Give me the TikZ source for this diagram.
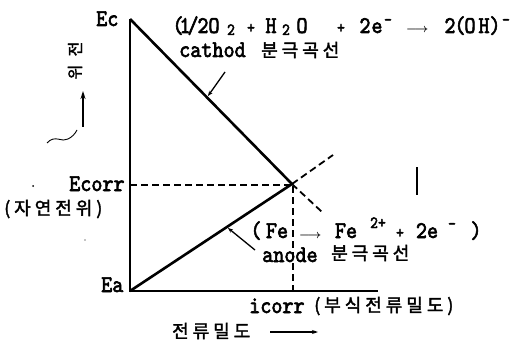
\documentclass[tikz,border=0pt]{standalone}
\usepackage{fontspec}
\usetikzlibrary{arrows.meta}
\newfontfamily\lat{lmmono10-regular.otf}[FakeBold=2.5,FakeStretch=0.88]
\newfontfamily\kr{Noto Sans CJK KR}[LetterSpace=22,FakeBold=2]
\newfontfamily\krn{Noto Sans CJK KR}[FakeBold=2]
\tikzset{
  lt/.style={inner sep=0pt, anchor=base west, font=\lat\fontsize{24}{24}\selectfont},
  ltc/.style={inner sep=0pt, anchor=base, font=\lat\fontsize{24}{24}\selectfont},
  smc/.style={inner sep=0pt, anchor=base, font=\lat\fontsize{17}{17}\selectfont},
  ko/.style={inner sep=0pt, anchor=west, font=\kr\fontsize{18}{18}\selectfont},
  arr/.style={inner sep=0pt, anchor=base west, font=\mathversion{bold}\fontsize{12}{12}\selectfont},
  curve/.style={line width=2.6pt},
  axisl/.style={line width=2pt},
  dsh/.style={line width=1.8pt, dash pattern=on 7pt off 4pt},
  lead/.style={line width=1.3pt, -{Stealth[length=5pt,width=4pt]}},
}
\begin{document}
\begin{tikzpicture}[x=1pt,y=-1pt]
\useasboundingbox (0,0) rectangle (514,350);
% key points
\coordinate (Ec) at (130,19);
\coordinate (O) at (130,291);
\coordinate (Xend) at (378,291);
\coordinate (P) at (292,184);
\coordinate (Ecl) at (130,185);
\coordinate (Ecr) at (292,185);
\coordinate (cdash) at (322,212);
\coordinate (adash) at (333,155);
\coordinate (foot) at (293,290);
\coordinate (ptop) at (293,186);
% axes
\draw[axisl] (Ec) -- (O) -- (Xend);
% cathode and anode curves
\draw[curve] (Ec) -- (P);
\draw[curve] (O) -- (P);
\draw[dsh] (P) -- (cdash);
\draw[dsh] (P) -- (adash);
\draw[dsh] (Ecl) -- (Ecr);
\draw[dsh] (ptop) -- (foot);
% leaders
\coordinate (cl1) at (225,72);
\coordinate (cl2) at (208,96);
\draw[lead] (cl1) -- (cl2);
\coordinate (al1) at (255,250);
\coordinate (al2) at (228,228);
\draw[lead] (al1) -- (al2);
% potential axis arrow and squiggle
\coordinate (va1) at (83,127);
\coordinate (va2) at (83,91);
\draw[line width=1.6pt, -{Stealth[length=8pt,width=5pt]}] (va1) -- (va2);
\coordinate (sq1) at (47,143);
\coordinate (sq2) at (77,130);
\draw[line width=0.9pt] (sq1) .. controls (55,134) and (62,143) .. (68,139) .. controls (72,137) and (75,134) .. (sq2);
% current axis arrow
\coordinate (ha1) at (270,332);
\coordinate (ha2) at (318,332);
\draw[line width=1.3pt, -{Stealth[length=6pt,width=4pt]}] (ha1) -- (ha2);
% stray marks
\coordinate (st1) at (417,167);
\coordinate (st2) at (417,195);
\draw[line width=1.2pt] (st1) -- (st2);
\fill (33,186) circle (1pt);
\fill (85,240) circle (0.7pt);
% vertical label
\node[inner sep=0pt, rotate=90, font=\krn\fontsize{16}{16}\selectfont] (v1) at (75,49) {전};
\node[inner sep=0pt, rotate=90, font=\krn\fontsize{16}{16}\selectfont] (v2) at (75,72) {위};
% axis labels
\node[lt] (lEc) at (96,26) {Ec};
\node[lt] (lEcorr) at (69,191) {Ecorr};
\node[ko] (lnat) at (4,209) {(자연전위)};
\node[lt] (lEa) at (101,292) {Ea};
\node[lt] (licorr) at (249,313) {icorr};
\node[ko] (lcorr) at (314,306) {(부식전류밀도)};
\node[ko] (lcd) at (172,331) {전류밀도};
% cathode labels
\node[lt] (lcath) at (179,57) {cathod};
\node[ko] (lcath2) at (261,50) {분극곡선};
\node[ltc] (c1) at (178,33) {(};
\node[ltc] (c2) at (185,33) {1};
\node[ltc] (c3) at (193,33) {/};
\node[ltc] (c4) at (203,33) {2};
\node[ltc] (c5) at (214,33) {O};
\node[smc] (c6) at (231,35) {2};
\node[smc] (c7) at (251,33) {+};
\node[ltc] (c8) at (271,33) {H};
\node[smc] (c9) at (286,35) {2};
\node[ltc] (c10) at (302,33) {O};
\node[smc] (c11) at (341,33) {+};
\node[ltc] (c12) at (365,33) {2};
\node[ltc] (c13) at (377,33) {e};
\node[smc] (c14) at (388,25) {-};
\node[arr] (c15) at (406,33) {$\longrightarrow$};
\node[ltc] (c16) at (450,33) {2};
\node[ltc] (c17) at (460,33) {(};
\node[ltc] (c18) at (470,33) {O};
\node[ltc] (c19) at (484,33) {H};
\node[ltc] (c20) at (495,33) {)};
\node[smc] (c21) at (506,25) {-};
% anode labels
\node[lt] (lan) at (262,262) {anode};
\node[ko] (lan2) at (331,253) {분극곡선};
\node[ltc] (f1) at (256,238) {(};
\node[ltc] (f2) at (277,238) {Fe};
\node[arr] (f3) at (299,238) {$\longrightarrow$};
\node[ltc] (f4) at (346,238) {Fe};
\node[smc] (f5) at (378,228) {2+};
\node[smc] (f6) at (400,238) {+};
\node[ltc] (f7) at (427,238) {2e};
\node[smc] (f8) at (452,229) {-};
\node[ltc] (f9) at (476,238) {)};
\end{tikzpicture}
\end{document}
